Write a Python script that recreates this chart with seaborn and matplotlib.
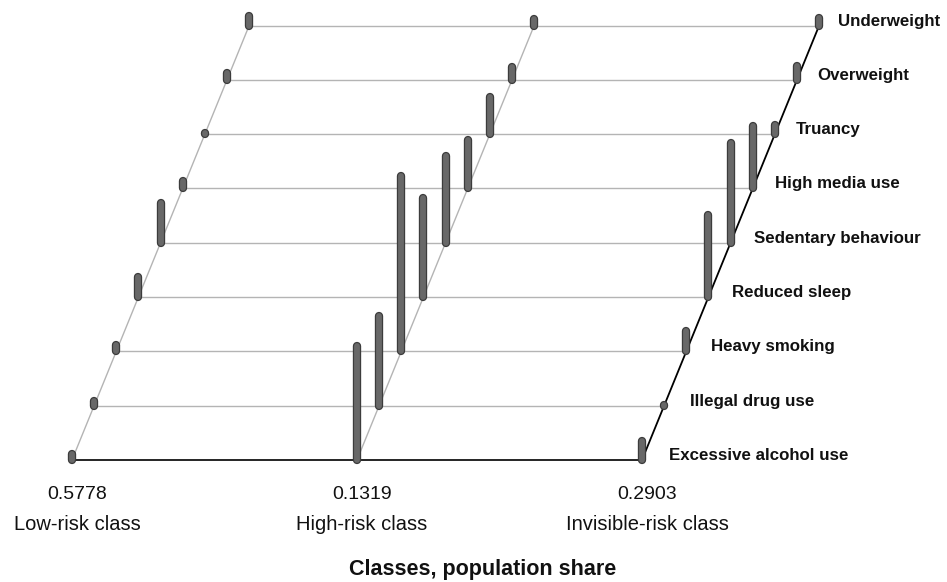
import numpy as np
import pandas as pd
import matplotlib
matplotlib.use("Agg")
import matplotlib.pyplot as plt
import seaborn as sns

# ---------------------------------------------------------------
# data
# ---------------------------------------------------------------
indicators = ["Excessive alcohol use", "Illegal drug use", "Heavy smoking",
              "Reduced sleep", "Sedentary behaviour", "High media use",
              "Truancy", "Overweight", "Underweight"]
classes = ["Low-risk class", "High-risk class", "Invisible-risk class"]
class_share = ["0.5778", "0.1319", "0.2903"]

low_risk = [0.03, 0.025, 0.03, 0.10, 0.20, 0.035, 0.006, 0.035, 0.05]
high_risk = [0.57, 0.45, 0.88, 0.495, 0.435, 0.245, 0.185, 0.065, 0.035]
invisible_risk = [0.095, 0.003, 0.10, 0.41, 0.50, 0.315, 0.045, 0.07, 0.04]

# oblique "3D" projection settings
ROW_DX = 0.0777      # shift to the right per indicator row (class units)
BAR_SCALE = 3.68     # bar height per unit probability (row units)

df = pd.DataFrame({
    "indicator": indicators * 3,
    "row": list(range(len(indicators))) * 3,
    "cls": np.repeat(np.arange(len(classes)), len(indicators)),
    "prob": low_risk + high_risk + invisible_risk,
})
df["x"] = df["cls"] + df["row"] * ROW_DX
df["y0"] = df["row"].astype(float)
df["y1"] = df["y0"] + df["prob"] * BAR_SCALE

# ---------------------------------------------------------------
# drawing
# ---------------------------------------------------------------
sns.set_theme(style="white")
plt.rcParams["font.family"] = ["Liberation Sans", "DejaVu Sans"]

fig = plt.figure(figsize=(9.47, 5.82), dpi=100)
ax = fig.add_axes([0, 0, 1, 1])
ax.set_xlim(-0.2526, 3.0702)
ax.set_ylim(-2.247, 8.471)
ax.axis("off")

n_rows = len(indicators)
n_cls = len(classes)
rows = np.arange(n_rows)

# horizontal row lines
for r in rows:
    xs = [0 + r * ROW_DX, (n_cls - 1) + r * ROW_DX]
    ax.plot(xs, [r, r], color="black" if r == 0 else "#b4b4b4",
            lw=1.2 if r == 0 else 1.0, zorder=1)

# diagonal depth lines per class
for c in range(n_cls):
    xs = c + rows * ROW_DX
    ax.plot(xs, rows, color="black" if c == n_cls - 1 else "#b4b4b4",
            lw=1.3 if c == n_cls - 1 else 1.0, zorder=1)

# bars (outline + fill, rounded ends)
ax.vlines(df["x"], df["y0"], df["y1"], colors="#3c3c3c", lw=6.0,
          capstyle="round", zorder=3)
ax.vlines(df["x"], df["y0"], df["y1"], colors="#686868", lw=4.2,
          capstyle="round", zorder=4)

# indicator labels to the right of the last class
for r, name in enumerate(indicators):
    off = (27 - r) / 285.0
    ax.text((n_cls - 1) + r * ROW_DX + off, r, name, ha="left", va="baseline",
            fontsize=12.2, fontweight="bold", color="#111111")

# class labels with population share
for c, (name, share) in enumerate(zip(classes, class_share)):
    ax.text(c + 0.018, -0.718, share, ha="center", va="baseline",
            fontsize=14, color="#111111")
    ax.text(c + 0.018, -1.289, name, ha="center", va="baseline",
            fontsize=14.5, color="#111111")

ax.text(1.442, -2.127, "Classes, population share", ha="center", va="baseline",
        fontsize=15.5, fontweight="bold", color="#111111")

fig.savefig("out.png", dpi=100)
